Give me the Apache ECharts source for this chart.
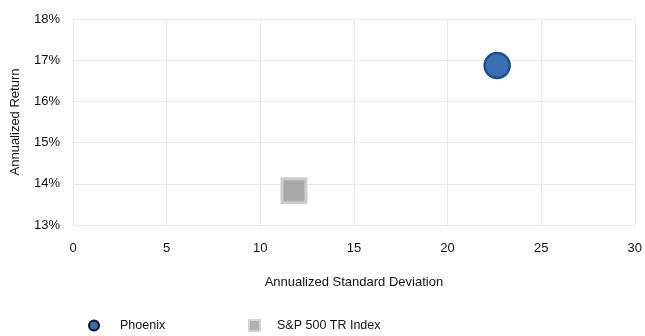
<!DOCTYPE html>
<html>
<head>
<meta charset="utf-8">
<script src="https://cdn.jsdelivr.net/npm/echarts@6/dist/echarts.min.js"></script>
<style>
  html, body { margin: 0; padding: 0; background: #fff; }
  #chart { width: 645px; height: 336px; }
</style>
</head>
<body>
<div id="chart"></div>
<script>
// Risk / return points: [annualized standard deviation, annualized return %]
const seriesNames = ['Phoenix', 'S&P 500 TR Index'];
const phoenixPoint = [22.65, 16.87];
const sp500Point = [11.8, 13.83];
const xTicks = [0, 5, 10, 15, 20, 25, 30];
const yTicks = [13, 14, 15, 16, 17, 18];

const font = '"Liberation Sans", Arial, sans-serif';
const gridColor = '#e8e8e8';

const chart = echarts.init(document.getElementById('chart'));
chart.setOption({
  animation: false,
  grid: { left: 73, right: 8, top: 19, bottom: 111 },
  xAxis: {
    type: 'value',
    min: xTicks[0],
    max: xTicks[xTicks.length - 1],
    interval: 5,
    name: 'Annualized Standard Deviation',
    nameLocation: 'middle',
    nameGap: 51,
    nameTextStyle: { color: '#111', fontSize: 13, fontFamily: font },
    axisLine: { show: true, lineStyle: { color: gridColor } },
    axisTick: { show: false },
    axisLabel: { color: '#111', fontSize: 13, fontFamily: font, margin: 17 },
    splitLine: { show: true, lineStyle: { color: gridColor } }
  },
  yAxis: {
    type: 'value',
    min: yTicks[0],
    max: yTicks[yTicks.length - 1],
    interval: 1,
    name: 'Annualized Return',
    nameLocation: 'middle',
    nameGap: 51,
    nameTextStyle: { color: '#111', fontSize: 13, fontFamily: font },
    axisLine: { show: true, lineStyle: { color: gridColor } },
    axisTick: { show: false },
    axisLabel: { color: '#111', fontSize: 13, fontFamily: font, margin: 13, formatter: '{value}%' },
    splitLine: { show: true, lineStyle: { color: gridColor } }
  },
  legend: [
    {
      left: 83, top: 314,
      itemWidth: 10, itemHeight: 10,
      textStyle: { color: '#111', fontSize: 12.5, fontFamily: font, padding: [0, 0, 0, 16] },
      data: [{ name: seriesNames[0], icon: 'circle',
               itemStyle: { color: '#2f6db5', borderColor: '#111', borderWidth: 2 } }]
    },
    {
      left: 243, top: 314,
      itemWidth: 11, itemHeight: 11,
      textStyle: { color: '#111', fontSize: 12.5, fontFamily: font, padding: [0, 0, 0, 12] },
      data: [{ name: seriesNames[1], icon: 'rect',
               itemStyle: { color: '#b0b0b0', borderColor: '#d2d2d2', borderWidth: 2 } }]
    }
  ],
  series: [
    {
      name: seriesNames[0],
      type: 'scatter',
      symbol: 'circle',
      symbolSize: 25,
      itemStyle: { color: '#3a6fb3', borderColor: '#1b4f95', borderWidth: 2.5, opacity: 1 },
      data: [phoenixPoint]
    },
    {
      name: seriesNames[1],
      type: 'scatter',
      symbol: 'rect',
      symbolSize: 24,
      itemStyle: { color: '#a8a8a8', borderColor: '#cdcdcd', borderWidth: 3, opacity: 1 },
      data: [sp500Point]
    }
  ]
});
</script>
</body>
</html>
